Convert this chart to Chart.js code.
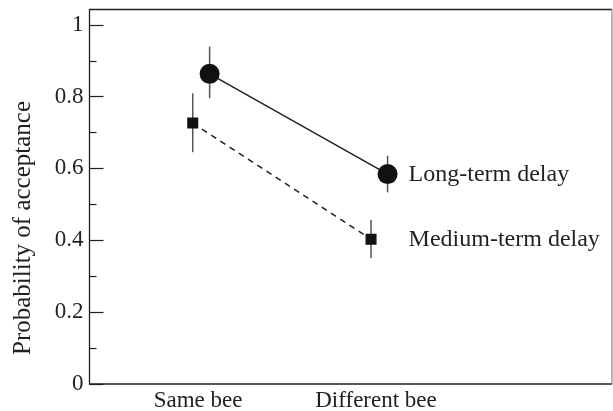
<!DOCTYPE html>
<html>
<head>
<meta charset="utf-8">
<script src="https://cdn.jsdelivr.net/npm/chart.js@4"></script>
<style>
  html, body { margin: 0; padding: 0; background: #fff; }
  #wrap { width: 613px; height: 411px; }
</style>
</head>
<body>
<div id="wrap"><canvas id="chart" width="613" height="411"></canvas></div>
<script>
// Data
const categories = ['Same bee', 'Different bee'];
const categoryX = [1, 2];
const seriesNames = ['Long-term delay', 'Medium-term delay'];

const longX = [1.065, 2.065];
const longY = [0.863, 0.584];
const longLow = [0.795, 0.533];
const longHigh = [0.939, 0.635];

const mediumX = [0.97, 1.972];
const mediumY = [0.726, 0.403];
const mediumLow = [0.645, 0.35];
const mediumHigh = [0.809, 0.456];

const yTicks = [0, 0.2, 0.4, 0.6, 0.8, 1];

const ink = '#231f20';
const serif = '"Liberation Serif", "Times New Roman", serif';

Chart.defaults.font.family = serif;
Chart.defaults.color = ink;

const toPoints = (xs, ys) => xs.map((x, i) => ({ x: x, y: ys[i] }));

// Error bars, frame, inward ticks, labels
const decor = {
  id: 'decor',
  beforeDatasetsDraw(chart) {
    const { ctx, scales: { x, y } } = chart;
    ctx.save();
    ctx.strokeStyle = '#555';
    ctx.lineWidth = 1.5;
    const bars = [[longX, longLow, longHigh], [mediumX, mediumLow, mediumHigh]];
    bars.forEach(([xs, lo, hi]) => {
      xs.forEach((v, i) => {
        const px = x.getPixelForValue(v);
        ctx.beginPath();
        ctx.moveTo(px, y.getPixelForValue(lo[i]));
        ctx.lineTo(px, y.getPixelForValue(hi[i]));
        ctx.stroke();
      });
    });
    ctx.restore();
  },
  afterDraw(chart) {
    const { ctx, chartArea: a, scales: { x, y } } = chart;
    ctx.save();
    // frame
    ctx.lineWidth = 1.3;
    ctx.strokeStyle = ink;
    ctx.beginPath();
    ctx.moveTo(a.right, a.top);
    ctx.lineTo(a.left, a.top);
    ctx.lineTo(a.left, a.bottom);
    ctx.lineTo(a.right, a.bottom);
    ctx.stroke();
    ctx.strokeStyle = '#888';
    ctx.lineWidth = 1.2;
    ctx.beginPath();
    ctx.moveTo(a.right, a.top);
    ctx.lineTo(a.right, a.bottom);
    ctx.stroke();

    // y tick marks drawn inward
    ctx.strokeStyle = ink;
    ctx.lineWidth = 1.2;
    y.ticks.forEach(t => {
      const py = Math.round(y.getPixelForValue(t.value)) + 0.5;
      const len = yTicks.includes(t.value) ? 14 : 7;
      ctx.beginPath();
      ctx.moveTo(a.left, py);
      ctx.lineTo(a.left + len, py);
      ctx.stroke();
    });

    // series labels next to the last points
    ctx.fillStyle = ink;
    ctx.font = '24px ' + serif;
    ctx.textBaseline = 'middle';
    ctx.textAlign = 'left';
    const lx = x.getPixelForValue(longX[1]) + 21;
    ctx.fillText(seriesNames[0], lx, y.getPixelForValue(longY[1]) + 1);
    ctx.fillText(seriesNames[1], lx, y.getPixelForValue(mediumY[1]) + 1);

    // y axis title
    ctx.translate(23, 228);
    ctx.rotate(-Math.PI / 2);
    ctx.textAlign = 'center';
    ctx.font = '25px ' + serif;
    ctx.fillText('Probability of acceptance', 0, 0);
    ctx.restore();
  }
};

new Chart(document.getElementById('chart'), {
  type: 'scatter',
  data: {
    datasets: [
      {
        label: seriesNames[0],
        data: toPoints(longX, longY),
        showLine: true,
        borderColor: ink,
        borderWidth: 1.5,
        backgroundColor: '#111',
        pointStyle: 'circle',
        pointRadius: 10,
        pointBorderWidth: 0,
        pointHoverRadius: 10
      },
      {
        label: seriesNames[1],
        data: toPoints(mediumX, mediumY),
        showLine: true,
        borderColor: ink,
        borderWidth: 1.5,
        borderDash: [6, 5],
        backgroundColor: '#111',
        pointStyle: 'rect',
        pointRadius: 7.8,
        pointBorderWidth: 0,
        pointHoverRadius: 7.8
      }
    ]
  },
  options: {
    responsive: false,
    animation: false,
    events: [],
    layout: { autoPadding: false, padding: { top: 9.5, right: 1, left: 0, bottom: 0 } },
    plugins: {
      legend: { display: false },
      tooltip: { enabled: false }
    },
    scales: {
      x: {
        type: 'linear',
        min: 0.39,
        max: 3.326,
        grid: { display: false, drawTicks: false },
        border: { display: false },
        afterBuildTicks: s => { s.ticks = categoryX.map(v => ({ value: v })); },
        afterFit: s => { s.height = 27; s.paddingLeft = 0; s.paddingRight = 0; },
        ticks: {
          padding: 3,
          autoSkip: false,
          maxRotation: 0,
          font: { size: 23 },
          color: ink,
          callback: v => categories[categoryX.indexOf(v)] || ''
        }
      },
      y: {
        min: 0,
        max: 1.042,
        grid: { display: false, drawTicks: false },
        border: { display: false },
        afterBuildTicks: s => {
          const minor = yTicks.slice(1).map((v, i) => (v + yTicks[i]) / 2);
          s.ticks = yTicks.concat(minor).map(v => ({ value: v }));
        },
        afterFit: s => { s.width = 89.5; s.paddingTop = 0; s.paddingBottom = 0; },
        ticks: {
          padding: 6,
          autoSkip: false,
          font: { size: 23 },
          color: ink,
          callback: v => (yTicks.includes(v) ? String(v) : '')
        }
      }
    }
  },
  plugins: [decor]
});
</script>
</body>
</html>
